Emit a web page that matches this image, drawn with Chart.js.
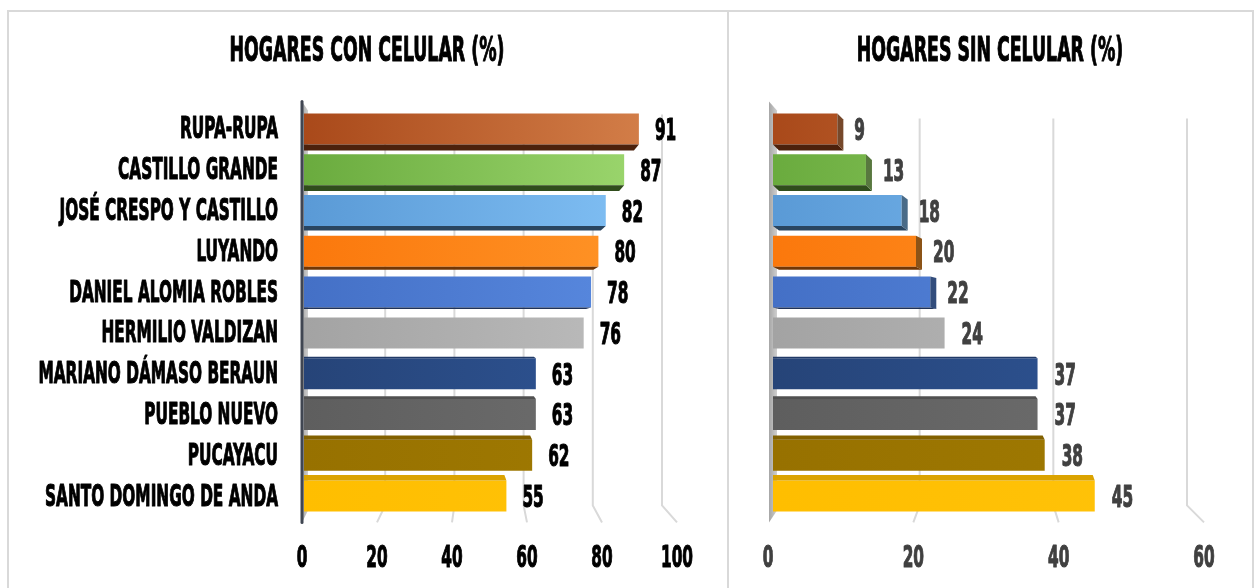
<!DOCTYPE html>
<html>
<head>
<meta charset="utf-8">
<script src="https://cdn.jsdelivr.net/npm/chart.js"></script>
<style>
  body { margin: 0; background: #fff; width: 1256px; height: 588px; overflow: hidden; position: relative; }
  .box { position: absolute; top: 10px; height: 600px; border: 2px solid #d9d9d9; box-sizing: border-box; }
  .wrap { position: absolute; top: 0; height: 588px; }
</style>
</head>
<body>
<div class="box" style="left:7px; width:722px;"></div>
<div class="box" style="left:727px; width:527px;"></div>
<div class="wrap" style="left:0; width:727px;"><canvas id="con"></canvas></div>
<div class="wrap" style="left:727px; width:529px;"><canvas id="sin"></canvas></div>
<script>
// distritos
const categories = ['RUPA-RUPA', 'CASTILLO GRANDE', 'JOSÉ CRESPO Y CASTILLO', 'LUYANDO',
  'DANIEL ALOMIA ROBLES', 'HERMILIO VALDIZAN', 'MARIANO DÁMASO BERAUN', 'PUEBLO NUEVO',
  'PUCAYACU', 'SANTO DOMINGO DE ANDA'];
const conCelular = [91, 87, 82, 80, 78, 76, 63, 63, 62, 55];
const sinCelular = [9, 13, 18, 20, 22, 24, 37, 37, 38, 45];
const ticksCon = [0, 20, 40, 60, 80, 100];
const ticksSin = [0, 20, 40, 60];

// [dark side, light side] of each bar
const colors = [
  ['#a9491a', '#d6824c'], ['#6aab3e', '#a0da72'], ['#5a9ad6', '#84c3f7'], ['#fb780c', '#ff972a'],
  ['#4470c6', '#5b8ce2'], ['#a3a3a3', '#bfbfbf'], ['#264478', '#2f5698'], ['#5e5e5e', '#707070'],
  ['#977100', '#a17b02'], ['#ffbe00', '#ffc30a']
];

// no narrow font here, so the text gets squeezed sideways
const FONT = '"DejaVu Sans Condensed", "Liberation Sans Narrow", sans-serif';

function shade(hex, f) {
  const n = parseInt(hex.slice(1), 16);
  const r = Math.round(((n >> 16) & 255) * f), g = Math.round(((n >> 8) & 255) * f), b = Math.round((n & 255) * f);
  return `rgb(${r},${g},${b})`;
}

function quad(ctx, pts, fill) {
  ctx.beginPath();
  ctx.moveTo(pts[0][0], pts[0][1]);
  for (let i = 1; i < pts.length; i++) ctx.lineTo(pts[i][0], pts[i][1]);
  ctx.closePath();
  ctx.fillStyle = fill;
  ctx.fill();
}

function squeeze(ctx, size, sample, width) {
  ctx.font = `bold ${size}px ${FONT}`;
  return width / ctx.measureText(sample).width;
}

function text(ctx, str, x, y, size, sx, align, color) {
  ctx.save();
  ctx.font = `bold ${size}px ${FONT}`;
  ctx.fillStyle = color;
  ctx.strokeStyle = color;
  ctx.lineWidth = 1.1;
  ctx.lineJoin = 'round';
  ctx.textAlign = align;
  ctx.textBaseline = 'alphabetic';
  ctx.translate(x, y);
  ctx.scale(sx, 1);
  ctx.fillText(str, 0, 0);
  ctx.strokeText(str, 0, 0);
  ctx.restore();
}

function frontX(a, o, v, max) {
  return a.left + o.front[0] + (v / max) * (a.width + o.front[1] - o.front[0]);
}

// fake 3D: wall, grid in perspective, bar depth, texts
function depthPlugin(o) {
  return {
    id: 'depth3d',
    beforeDatasetsDraw(chart) {
      const ctx = chart.ctx, a = chart.chartArea, xs = chart.scales.x;
      ctx.save();
      ctx.strokeStyle = '#d9d9d9';
      ctx.lineWidth = 2;
      o.ticks.forEach(v => {
        if (v === 0) return;
        const f = v / xs.max;
        const back = a.left + o.back[0] + f * (a.width + o.back[1] - o.back[0]);
        ctx.beginPath();
        ctx.moveTo(back, a.top + o.gridTop);
        ctx.lineTo(back, a.bottom - 11);
        ctx.lineTo(frontX(a, o, v, xs.max), a.bottom + 6);
        ctx.stroke();
      });
      const wl = a.left - o.wall[0], wr = a.left + o.wall[1];
      const wg = ctx.createLinearGradient(wl, 0, wr, 0);
      wg.addColorStop(0, '#a6a6a6');
      wg.addColorStop(1, '#cfcfcf');
      quad(ctx, [[wl, a.top - 7], [wr, a.top + 2], [wr, a.bottom - 6], [wl, a.bottom + 6]], wg);
      if (o.axisLine) {
        ctx.strokeStyle = '#404652';
        ctx.lineWidth = 3;
        ctx.lineCap = 'round';
        ctx.beginPath();
        ctx.moveTo(wl, a.top - 7);
        ctx.lineTo(wl, a.bottom + 6);
        ctx.stroke();
      }
      ctx.restore();
    },
    afterDatasetsDraw(chart) {
      const ctx = chart.ctx, a = chart.chartArea, xs = chart.scales.x;
      const meta = chart.getDatasetMeta(0);
      const data = chart.data.datasets[0].data;
      const sxNum = squeeze(ctx, 30, '100', 32);
      ctx.save();
      meta.data.forEach((bar, i) => {
        const x0 = bar.base, x1 = bar.x, y0 = bar.y - bar.height / 2, y1 = bar.y + bar.height / 2;
        const dy = Math.max(-6, Math.min(6, (335 - bar.y) * 0.035));
        if (dy > 0.5) {
          const dx = o.sideDx;
          quad(ctx, [[x0, y1], [x1, y1], [x1 + dx, y1 + dy], [x0 + Math.max(dx, 0), y1 + dy]], shade(colors[i][0], 0.45));
          if (dx > 0) quad(ctx, [[x1, y0], [x1 + dx, y0 + dy], [x1 + dx, y1 + dy], [x1, y1]], shade(colors[i][1], 0.55));
        } else if (dy < -0.5) {
          quad(ctx, [[x0, y0], [x1, y0], [x1 - 2, y0 + dy], [x0, y0 + dy]], shade(colors[i][0], 0.86));
        }
        text(ctx, String(data[i]), x1 + o.labelGap, bar.y + 11, 30, sxNum, 'left', o.labelColor);
      });
      // category names
      if (o.showCats) {
        const sxCat = squeeze(ctx, 31, 'SANTO DOMINGO DE ANDA', 233);
        const ys = chart.scales.y;
        categories.forEach((c, i) => {
          text(ctx, c, a.left - 26, ys.getPixelForValue(i) + 9.5, 31, sxCat, 'right', '#000');
        });
      }
      // x tick labels, on the front edge of the floor
      o.ticks.forEach(v => {
        text(ctx, String(v), frontX(a, o, v, xs.max), 567, 30, sxNum, 'center', o.tickColor);
      });
      // title
      const sxTitle = squeeze(ctx, 34, 'HOGARES CON CELULAR (%)', 275);
      text(ctx, o.title, o.titleX, 61, 34, sxTitle, 'center', '#000');
      ctx.restore();
    }
  };
}

function makeChart(id, values, o) {
  const ctx = document.getElementById(id);
  return new Chart(ctx, {
    type: 'bar',
    data: {
      labels: categories,
      datasets: [{
        data: values,
        backgroundColor: (c) => {
          const ch = c.chart, a = ch.chartArea, col = colors[c.dataIndex];
          if (!a) return col[0];
          const g = ch.ctx.createLinearGradient(a.left, 0, a.right, 0);
          g.addColorStop(0, col[0]);
          g.addColorStop(1, col[1]);
          return g;
        },
        borderWidth: 0,
        barPercentage: 0.76,
        categoryPercentage: 1
      }]
    },
    options: {
      indexAxis: 'y',
      responsive: true,
      maintainAspectRatio: false,
      animation: false,
      layout: { padding: { left: o.padLeft, right: o.padRight, top: 108.6, bottom: 71.6 } },
      plugins: {
        legend: { display: false },
        tooltip: { enabled: false },
        title: { display: false }
      },
      scales: {
        x: { display: false, min: 0, max: o.ticks[o.ticks.length - 1] },
        y: { display: false }
      }
    },
    plugins: [depthPlugin(o)]
  });
}

makeChart('con', conCelular, {
  title: 'HOGARES CON CELULAR (%)', titleX: 367, ticks: ticksCon,
  padLeft: 304, padRight: 55, showCats: true, tickColor: '#000', labelColor: '#000', labelGap: 16,
  back: [12, -10], front: [-2, 5], gridTop: 6, wall: [2, 4], axisLine: true, sideDx: -5
});
makeChart('sin', sinCelular, {
  title: 'HOGARES SIN CELULAR (%)', titleX: 263, ticks: ticksSin,
  padLeft: 46, padRight: 54, showCats: false, tickColor: '#404040', labelColor: '#404040', labelGap: 17,
  back: [13, -15], front: [-5, 2], gridTop: 10, wall: [4, 4], axisLine: false, sideDx: 6
});
</script>
</body>
</html>
